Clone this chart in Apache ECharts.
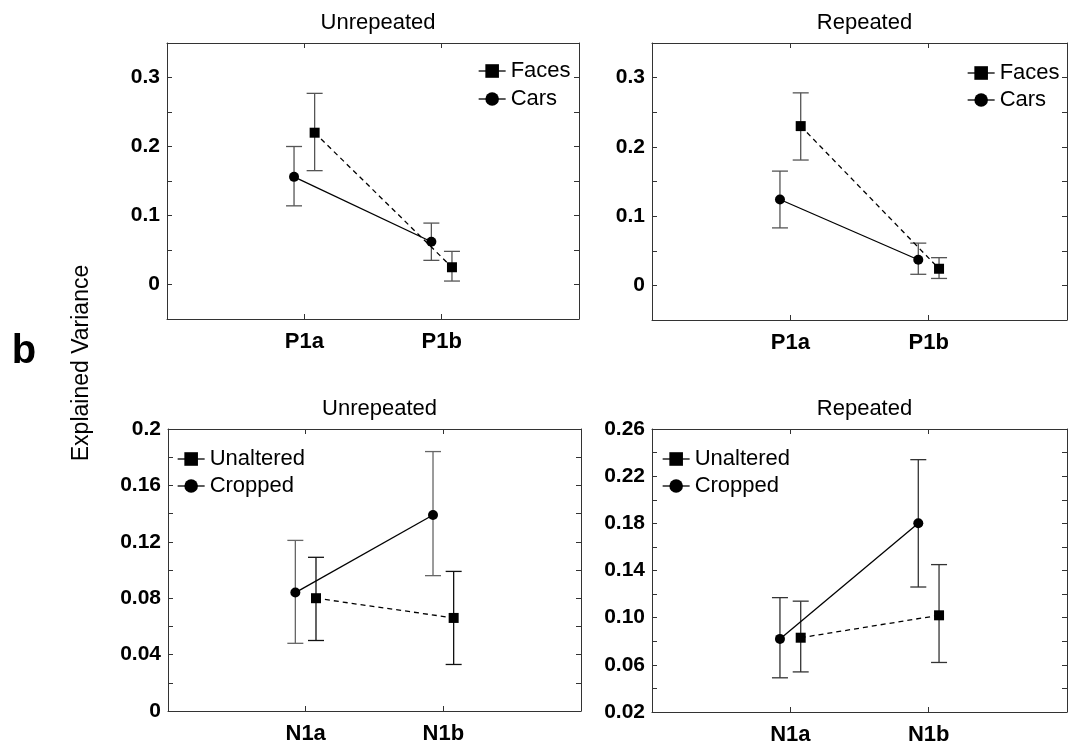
<!DOCTYPE html>
<html>
<head>
<meta charset="utf-8">
<script src="https://cdn.jsdelivr.net/npm/echarts@6/dist/echarts.min.js"></script>
<style>html,body{margin:0;padding:0;background:#fff}#c{width:1071px;height:746px}</style>
</head>
<body>
<div id="c"></div>
<script>
// ---- data ----
const catsP = ['P1a', 'P1b'];
const catsN = ['N1a', 'N1b'];

// Top-left: Unrepeated (Faces / Cars)
const facesU = [0.220, 0.025];
const facesULo = [0.165, 0.005];
const facesUHi = [0.277, 0.048];
const carsU = [0.156, 0.062];
const carsULo = [0.114, 0.035];
const carsUHi = [0.200, 0.089];

// Top-right: Repeated (Faces / Cars)
const facesR = [0.230, 0.024];
const facesRLo = [0.181, 0.010];
const facesRHi = [0.278, 0.040];
const carsR = [0.124, 0.037];
const carsRLo = [0.083, 0.016];
const carsRHi = [0.165, 0.061];

// Bottom-left: Unrepeated (Unaltered / Cropped)
const unaltU = [0.080, 0.066];
const unaltULo = [0.050, 0.033];
const unaltUHi = [0.109, 0.099];
const cropU = [0.084, 0.139];
const cropULo = [0.048, 0.096];
const cropUHi = [0.121, 0.184];

// Bottom-right: Repeated (Unaltered / Cropped)
const unaltR = [0.083, 0.102];
const unaltRLo = [0.054, 0.062];
const unaltRHi = [0.114, 0.145];
const cropR = [0.082, 0.180];
const cropRLo = [0.049, 0.126];
const cropRHi = [0.117, 0.234];

// tick labels
const ticksTop = [0, 0.1, 0.2, 0.3];
const ticksTopLbl = ['0', '0.1', '0.2', '0.3'];
const ticksBL = [0, 0.04, 0.08, 0.12, 0.16, 0.2];
const ticksBLLbl = ['0', '0.04', '0.08', '0.12', '0.16', '0.2'];
const ticksBR = [0.02, 0.06, 0.10, 0.14, 0.18, 0.22, 0.26];
const ticksBRLbl = ['0.02', '0.06', '0.10', '0.14', '0.18', '0.22', '0.26'];

const titles = ['Unrepeated', 'Repeated', 'Unrepeated', 'Repeated'];

// ---- layout ----
const FONT = 'Liberation Sans, Arial, Helvetica, sans-serif';
const grids = [
  {left: 167, top: 43, width: 412, height: 276},
  {left: 652, top: 43, width: 415, height: 277},
  {left: 168, top: 429, width: 413, height: 282},
  {left: 652, top: 429, width: 415, height: 283}
];
const yRanges = [
  {min: -0.05, max: 0.35, interval: 0.05, ticks: ticksTop, lbl: ticksTopLbl},
  {min: -0.05, max: 0.35, interval: 0.05, ticks: ticksTop, lbl: ticksTopLbl},
  {min: 0, max: 0.2, interval: 0.02, ticks: ticksBL, lbl: ticksBLLbl},
  {min: 0.02, max: 0.26, interval: 0.02, ticks: ticksBR, lbl: ticksBRLbl}
];
const OFF = 0.075;
const AX = '#333';

function pts(vals, off) { return vals.map((v, i) => [i + 1 + off, v]); }
function errs(lo, hi, off) { return lo.map((l, i) => [i + 1 + off, l, hi[i]]); }

const xAxes = [], yAxes = [], series = [], titleArr = [];
grids.forEach((g, k) => {
  const cats = k < 2 ? catsP : catsN;
  const yr = yRanges[k];
  xAxes.push({
    type: 'value', gridIndex: k, min: 0, max: 3, interval: 1, position: 'bottom',
    axisLine: {show: true, onZero: false, lineStyle: {color: AX, width: 1}},
    axisTick: {show: true, inside: true, length: 5, lineStyle: {color: AX}},
    splitLine: {show: false},
    axisLabel: {
      margin: 12, fontSize: 22, fontWeight: 'bold', color: '#000', fontFamily: FONT,
      formatter: v => cats[Math.round(v) - 1] || ''
    }
  });
  xAxes.push({
    type: 'value', gridIndex: k, min: 0, max: 3, interval: 1, position: 'top',
    axisLine: {show: true, onZero: false, lineStyle: {color: AX, width: 1}},
    axisTick: {show: true, inside: true, length: 5, lineStyle: {color: AX}},
    splitLine: {show: false}, axisLabel: {show: false}
  });
  yAxes.push({
    type: 'value', gridIndex: k, min: yr.min, max: yr.max, interval: yr.interval, position: 'left',
    axisLine: {show: true, onZero: false, lineStyle: {color: AX, width: 1}},
    axisTick: {show: true, inside: true, length: 5, lineStyle: {color: AX}},
    splitLine: {show: false},
    axisLabel: {
      margin: 7, fontSize: 21, fontWeight: 'bold', color: '#000', fontFamily: FONT,
      formatter: v => {
        for (let i = 0; i < yr.ticks.length; i++) if (Math.abs(v - yr.ticks[i]) < 1e-9) return yr.lbl[i];
        return '';
      }
    }
  });
  yAxes.push({
    type: 'value', gridIndex: k, min: yr.min, max: yr.max, interval: yr.interval, position: 'right',
    axisLine: {show: true, onZero: false, lineStyle: {color: AX, width: 1}},
    axisTick: {show: true, inside: true, length: 5, lineStyle: {color: AX}},
    splitLine: {show: false}, axisLabel: {show: false}
  });
  titleArr.push({
    text: titles[k], left: g.left + g.width / 2, top: g.top - 36, textAlign: 'center',
    textStyle: {fontSize: 22, fontWeight: 'normal', color: '#000', fontFamily: FONT}
  });
});

function errSeries(name, k, data, color) {
  return {
    type: 'custom', name: name, xAxisIndex: 2 * k, yAxisIndex: 2 * k, z: 1, silent: true,
    data: data, encode: {x: 0, y: [1, 2]},
    renderItem: function (params, api) {
      const x = api.value(0);
      const a = api.coord([x, api.value(2)]);
      const b = api.coord([x, api.value(1)]);
      const hw = 8;
      const st = {stroke: color, lineWidth: 1.3};
      return {type: 'group', children: [
        {type: 'line', shape: {x1: a[0], y1: a[1], x2: b[0], y2: b[1]}, style: st},
        {type: 'line', shape: {x1: a[0] - hw, y1: a[1], x2: a[0] + hw, y2: a[1]}, style: st},
        {type: 'line', shape: {x1: b[0] - hw, y1: b[1], x2: b[0] + hw, y2: b[1]}, style: st}
      ]};
    }
  };
}
function lineSeries(name, k, data, dashed, symbol) {
  return {
    type: 'line', name: name, xAxisIndex: 2 * k, yAxisIndex: 2 * k, z: 3,
    data: data, symbol: symbol, symbolSize: 10,
    showSymbol: true, animation: false,
    itemStyle: {color: '#000'},
    lineStyle: {color: '#000', width: 1.3, type: dashed ? [5, 4] : 'solid'}
  };
}

// top-left
series.push(errSeries('FacesErrU', 0, errs(facesULo, facesUHi, OFF), '#555'));
series.push(errSeries('CarsErrU', 0, errs(carsULo, carsUHi, -OFF), '#555'));
series.push(lineSeries('Faces', 0, pts(facesU, OFF), true, 'rect'));
series.push(lineSeries('Cars', 0, pts(carsU, -OFF), false, 'circle'));
// top-right
series.push(errSeries('FacesErrR', 1, errs(facesRLo, facesRHi, OFF), '#555'));
series.push(errSeries('CarsErrR', 1, errs(carsRLo, carsRHi, -OFF), '#555'));
series.push(lineSeries('Faces', 1, pts(facesR, OFF), true, 'rect'));
series.push(lineSeries('Cars', 1, pts(carsR, -OFF), false, 'circle'));
// bottom-left
series.push(errSeries('UnaltErrU', 2, errs(unaltULo, unaltUHi, OFF), '#111'));
series.push(errSeries('CropErrU', 2, errs(cropULo, cropUHi, -OFF), '#666'));
series.push(lineSeries('Unaltered', 2, pts(unaltU, OFF), true, 'rect'));
series.push(lineSeries('Cropped', 2, pts(cropU, -OFF), false, 'circle'));
// bottom-right
series.push(errSeries('UnaltErrR', 3, errs(unaltRLo, unaltRHi, OFF), '#333'));
series.push(errSeries('CropErrR', 3, errs(cropRLo, cropRHi, -OFF), '#333'));
series.push(lineSeries('Unaltered', 3, pts(unaltR, OFF), true, 'rect'));
series.push(lineSeries('Cropped', 3, pts(cropR, -OFF), false, 'circle'));

function legend(names, left, top, gap) {
  return {
    data: names, orient: 'vertical', left: left, top: top, padding: 0,
    itemWidth: 27, itemHeight: 17, itemGap: gap, selectedMode: false,
    lineStyle: {type: 'solid', width: 1.3, color: '#000'},
    textStyle: {fontSize: 22, color: '#000', fontFamily: FONT, lineHeight: 22}
  };
}

const chart = echarts.init(document.getElementById('c'), null, {renderer: 'canvas'});
chart.setOption({
  animation: false,
  backgroundColor: '#fff',
  title: titleArr,
  grid: grids.map(g => Object.assign({containLabel: false, show: false}, g)),
  xAxis: xAxes,
  yAxis: yAxes,
  legend: [
    legend(['Faces', 'Cars'], 478, 60, 6),
    legend(['Faces', 'Cars'], 967, 62, 5),
    legend(['Unaltered', 'Cropped'], 177, 448, 5),
    legend(['Unaltered', 'Cropped'], 662, 448, 5)
  ],
  graphic: [
    {type: 'text', x: 24, y: 352, style: {text: 'b', fontSize: 40, fontWeight: 'bold', fill: '#000', fontFamily: FONT, align: 'center', verticalAlign: 'middle'}},
    {type: 'text', x: 82, y: 363, rotation: Math.PI / 2, style: {text: 'Explained Variance', fontSize: 23, fill: '#000', fontFamily: FONT, align: 'center', verticalAlign: 'middle'}}
  ],
  series: series
});
</script>
</body>
</html>
